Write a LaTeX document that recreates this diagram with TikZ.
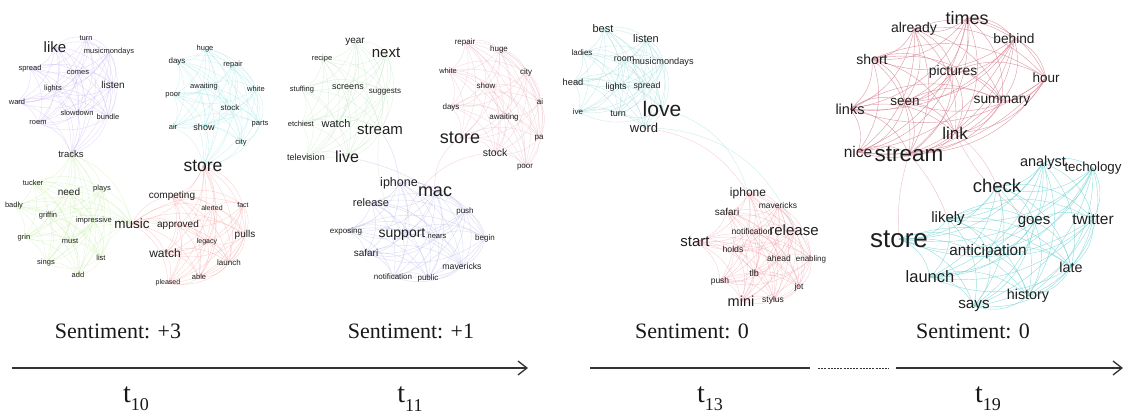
\documentclass[tikz,border=0pt]{standalone}
\usepackage{fontspec}
\setmainfont{Liberation Serif}
\newfontfamily\wordfont{Liberation Sans}
\usetikzlibrary{backgrounds,arrows.meta}
\definecolor{cpur}{HTML}{C4ACF0}
\definecolor{ccyA}{HTML}{96E2E2}
\definecolor{cgrA}{HTML}{C2EBA2}
\definecolor{credA}{HTML}{F29A9A}
\definecolor{cgrB}{HTML}{BADFBA}
\definecolor{credB}{HTML}{E6AAB8}
\definecolor{cbluB}{HTML}{AEAEE6}
\definecolor{ccyC}{HTML}{96D6D6}
\definecolor{credC}{HTML}{EE9CA8}
\definecolor{credD}{HTML}{D4788A}
\definecolor{ccyD}{HTML}{70D2D2}
\definecolor{wtext}{HTML}{1E1E1E}
\tikzset{
  wd/.style={font=\wordfont\fontsize{#1}{#1}\selectfont, inner sep=0pt, text=wtext},
  edg/.style={draw=#1, line width=0.45pt, opacity=0.45},
  sent/.style={font=\fontsize{22}{22}\selectfont, inner sep=0pt, text=black!90},
  tlab/.style={font=\fontsize{28}{28}\selectfont, inner sep=0pt, text=black!90},
  axis/.style={line width=1.5pt, draw=black!80},
}
\newcommand\mkclique[3]{%
  \foreach \a [count=\i] in {#1}{%
    \foreach \b [count=\j] in {#1}{%
      \ifnum\j>\i \draw[edg=#2, opacity=#3] (\a.center) to[bend left=28] (\b.center);\fi
    }}}
\newcommand\tsub[2]{#1\raisebox{-0.3em}{\fontsize{18}{18}\selectfont #2}}
\begin{document}
\begin{tikzpicture}[x=1pt,y=-1pt]
\useasboundingbox (0,0) rectangle (1129,419);
% ---------- panel 1 ----------
\node[wd=15] (a1) at (55,47) {like};
\node[wd=7.5] (a2) at (86,38) {turn};
\node[wd=7.5] (a3) at (109,52) {musicmondays};
\node[wd=7.5] (a4) at (30,69) {spread};
\node[wd=7.5] (a5) at (78,73) {comes};
\node[wd=10] (a6) at (113,85) {listen};
\node[wd=7.5] (a7) at (53,89) {lights};
\node[wd=7.5] (a8) at (17,102) {ward};
\node[wd=7.5] (a9) at (77,113) {slowdown};
\node[wd=7.5] (a10) at (108,117) {bundle};
\node[wd=7.5] (a11) at (38,123) {roem};
\node[wd=9.5] (atr) at (71,154) {tracks};
\node[wd=7.5] (b1) at (205,49) {huge};
\node[wd=8] (b2) at (177,61) {days};
\node[wd=7.5] (b3) at (233,65) {repair};
\node[wd=7.5] (b4) at (204,87) {awaiting};
\node[wd=7.5] (b5) at (256,89) {white};
\node[wd=7.5] (b6) at (173,95) {poor};
\node[wd=8] (b7) at (230,108) {stock};
\node[wd=7.5] (b8) at (173,127) {air};
\node[wd=9] (b9) at (204,127) {show};
\node[wd=7.5] (b10) at (260,124) {parts};
\node[wd=7.5] (b11) at (241,143) {city};
\node[wd=17.5] (bst) at (203,166) {store};
\node[wd=7.5] (c1) at (33,183) {tucker};
\node[wd=10] (c2) at (69,192) {need};
\node[wd=7.5] (c3) at (102,189) {plays};
\node[wd=7.5] (c4) at (14,206) {badly};
\node[wd=7.5] (c5) at (48,216) {griffin};
\node[wd=7.5] (c6) at (94,221) {impressive};
\node[wd=7.5] (c7) at (24,238) {grin};
\node[wd=7.5] (c8) at (70,241) {must};
\node[wd=7.5] (c9) at (101,258) {list};
\node[wd=7.5] (c10) at (46,263) {sings};
\node[wd=7.5] (c11) at (78,275) {add};
\node[wd=13.5] (cmu) at (132,224) {music};
\node[wd=10] (d1) at (172,196) {competing};
\node[wd=7] (d2) at (212,208) {alerted};
\node[wd=7] (d3) at (243,205) {fact};
\node[wd=10] (d4) at (178,225) {approved};
\node[wd=10] (d5) at (245,235) {pulls};
\node[wd=7] (d6) at (207,242) {legacy};
\node[wd=12] (d7) at (165,253) {watch};
\node[wd=8] (d8) at (229,263) {launch};
\node[wd=7.5] (d9) at (199,277) {able};
\node[wd=7] (d10) at (168,283) {pleased};
% ---------- panel 2 ----------
\node[wd=10] (e1) at (355,42) {year};
\node[wd=15] (e2) at (386,53) {next};
\node[wd=7.5] (e3) at (322,59) {recipe};
\node[wd=7.5] (e4) at (302,90) {stuffing};
\node[wd=9] (e5) at (348,87) {screens};
\node[wd=8] (e6) at (385,92) {suggests};
\node[wd=7.5,anchor=east] (e7) at (314,124) {etchiest};
\node[wd=11] (e8) at (336,124) {watch};
\node[wd=15] (e9) at (380,130) {stream};
\node[wd=9] (e10) at (306,157) {television};
\node[wd=16] (e11) at (347,157) {live};
\node[wd=8] (f1) at (465,42) {repair};
\node[wd=8] (f2) at (499,49) {huge};
\node[wd=7.5] (f3) at (448,71) {white};
\node[wd=8] (f4) at (526,72) {city};
\node[wd=8] (f5) at (486,86) {show};
\node[wd=8] (f6) at (451,107) {days};
\node[wd=8] (f7) at (540,102) {ai};
\node[wd=8] (f8) at (504,117) {awaiting};
\node[wd=18] (f9) at (460,138) {store};
\node[wd=8] (f10) at (539,138) {pa};
\node[wd=10.5] (f11) at (495,153) {stock};
\node[wd=8] (f12) at (525,167) {poor};
\node[wd=12.5] (g1) at (399,183) {iphone};
\node[wd=18] (g2) at (435,192) {mac};
\node[wd=11] (g3) at (371,203) {release};
\node[wd=8] (g4) at (465,211) {push};
\node[wd=8] (g5) at (346,231) {exposing};
\node[wd=14] (g6) at (402,234) {support};
\node[wd=7.5] (g7) at (437,237) {nears};
\node[wd=8] (g8) at (485,238) {begin};
\node[wd=10] (g9) at (366,253) {safari};
\node[wd=8.7] (g10) at (462,266) {mavericks};
\node[wd=8] (g11) at (393,277) {notification};
\node[wd=8] (g12) at (428,278) {public};
% ---------- panel 3 ----------
\node[wd=11] (h1) at (603,29) {best};
\node[wd=11] (h2) at (646,39) {listen};
\node[wd=8] (h3) at (582,53) {ladies};
\node[wd=9] (h4) at (624,59) {room};
\node[wd=9.2] (h5) at (663,62) {musicmondays};
\node[wd=9.3] (h6) at (573,82) {head};
\node[wd=9] (h7) at (616,87) {lights};
\node[wd=8.8] (h8) at (647,86) {spread};
\node[wd=21] (h9) at (662,109) {love};
\node[wd=8] (h10) at (578,112) {ive};
\node[wd=9] (h11) at (618,114) {turn};
\node[wd=13] (h12) at (644,128) {word};
\node[wd=12] (k1) at (748,193) {iphone};
\node[wd=8.5] (k2) at (778,205) {mavericks};
\node[wd=10] (k3) at (727,212) {safari};
\node[wd=8.5] (k4) at (752,231) {notification};
\node[wd=15] (k5) at (794,230) {release};
\node[wd=15] (k6) at (695,242) {start};
\node[wd=8.7] (k7) at (733,249) {holds};
\node[wd=8.5] (k8) at (779,258) {ahead};
\node[wd=8] (k9) at (811,259) {enabling};
\node[wd=9] (k10) at (754,273) {tlb};
\node[wd=8.5] (k11) at (720,281) {push};
\node[wd=8.5] (k12) at (799,287) {jot};
\node[wd=14.5] (k13) at (741,301) {mini};
\node[wd=8.5] (k14) at (773,300) {stylus};
% ---------- panel 4 ----------
\node[wd=18] (m1) at (967,18) {times};
\node[wd=14] (m2) at (914,29) {already};
\node[wd=13.7] (m3) at (1014,39) {behind};
\node[wd=14] (m4) at (872,59) {short};
\node[wd=13.8] (m5) at (953,72) {pictures};
\node[wd=13.5] (m6) at (1046,78) {hour};
\node[wd=14.5] (m7) at (850,109) {links};
\node[wd=13.5] (m8) at (905,102) {seen};
\node[wd=13.8] (m9) at (1002,101) {summary};
\node[wd=17] (m10) at (955,133) {link};
\node[wd=15.5] (m11) at (858,152) {nice};
\node[wd=22.5] (m12) at (909,154) {stream};
\node[wd=14.5] (n1) at (1043,163) {analyst};
\node[wd=13.3] (n2) at (1093,168) {techology};
\node[wd=18.5] (n3) at (997,186) {check};
\node[wd=15] (n4) at (948,219) {likely};
\node[wd=15] (n5) at (1034,222) {goes};
\node[wd=15.5] (n6) at (1093,219) {twitter};
\node[wd=26] (n7) at (899,239) {store};
\node[wd=15.3] (n8) at (988,252) {anticipation};
\node[wd=14.3] (n9) at (1071,267) {late};
\node[wd=16.5] (n10) at (930,277) {launch};
\node[wd=14.3] (n11) at (1028,296) {history};
\node[wd=15.3] (n12) at (974,306) {says};
% ---------- edges ----------
\begin{pgfonlayer}{background}
\mkclique{a1,a2,a3,a4,a5,a6,a7,a8,a9,a10,a11,atr}{cpur}{0.4}
\mkclique{b1,b2,b3,b4,b5,b6,b7,b8,b9,b10,b11,bst}{ccyA}{0.4}
\mkclique{atr,c1,c2,c3,c4,c5,c6,c7,c8,c9,c10,c11,cmu}{cgrA}{0.4}
\mkclique{bst,cmu,d1,d2,d3,d4,d5,d6,d7,d8,d9,d10}{credA}{0.4}
\mkclique{e1,e2,e3,e4,e5,e6,e7,e8,e9,e10,e11}{cgrB}{0.4}
\mkclique{f1,f2,f3,f4,f5,f6,f7,f8,f9,f10,f11,f12}{credB}{0.4}
\mkclique{g1,g2,g3,g4,g5,g6,g7,g8,g9,g10,g11,g12}{cbluB}{0.4}
\mkclique{h1,h2,h3,h4,h5,h6,h7,h8,h9,h10,h11,h12}{ccyC}{0.45}
\mkclique{k1,k2,k3,k4,k5,k6,k7,k8,k9,k10,k11,k12,k13,k14}{credC}{0.45}
\mkclique{m1,m2,m3,m4,m5,m6,m7,m8,m9,m10,m11,m12}{credD}{0.7}
\mkclique{n1,n2,n3,n4,n5,n6,n7,n8,n9,n10,n11,n12}{ccyD}{0.7}
\draw[edg=cbluB] (e11.center) to[bend left=10] (g2.center);
\draw[edg=cbluB] (e9.center) to[bend left=15] (g1.center);
\draw[edg=cgrB] (e9.center) to[bend right=20] (g6.center);
\draw[edg=credB] (f9.center) to[bend right=30] (g2.center);
\draw[edg=credB] (f11.center) to[bend right=40] (g6.center);
\draw[edg=ccyC] (h9.center) to[bend left=30] (k1.center);
\draw[edg=ccyC] (h12.center) to[bend left=35] (k5.center);
\draw[edg=credC] (h12.center) to[bend left=25] (k1.center);
\draw[edg=credD] (m10.center) to[bend left=15] (n3.center);
\draw[edg=credD] (m12.center) to[bend right=10] (n7.center);
\draw[edg=credD] (m10.center) to[bend right=15] (n5.center);
\draw[edg=credD] (m12.center) to[bend left=10] (n4.center);
\end{pgfonlayer}
% ---------- time axis ----------
\node[sent] (s1) at (118,331) {Sentiment: +3};
\node[sent] (s2) at (411,331) {Sentiment: +1};
\node[sent] (s3) at (692,331) {Sentiment: 0};
\node[sent] (s4) at (973,331) {Sentiment: 0};
\coordinate (x0) at (12,368);
\coordinate (x1) at (528,368);
\coordinate (y0) at (590,368);
\coordinate (y1) at (810,368);
\coordinate (y2) at (818,368);
\coordinate (y3) at (889,368);
\coordinate (y4) at (896,368);
\coordinate (y5) at (1123,368);
\draw[axis,-{Straight Barb[length=9pt,width=14pt,line width=1.3pt]}] (x0) -- (x1);
\draw[axis] (y0) -- (y1);
\draw[line width=1pt, draw=black!80, dash pattern=on 2pt off 1.2pt] (y2) -- (y3);
\draw[axis,-{Straight Barb[length=9pt,width=14pt,line width=1.3pt]}] (y4) -- (y5);
\node[tlab] (t1) at (136,399) {\tsub{t}{10}};
\node[tlab] (t2) at (410,399) {\tsub{t}{11}};
\node[tlab] (t3) at (710,399) {\tsub{t}{13}};
\node[tlab] (t4) at (988,399) {\tsub{t}{19}};
\end{tikzpicture}
\end{document}
